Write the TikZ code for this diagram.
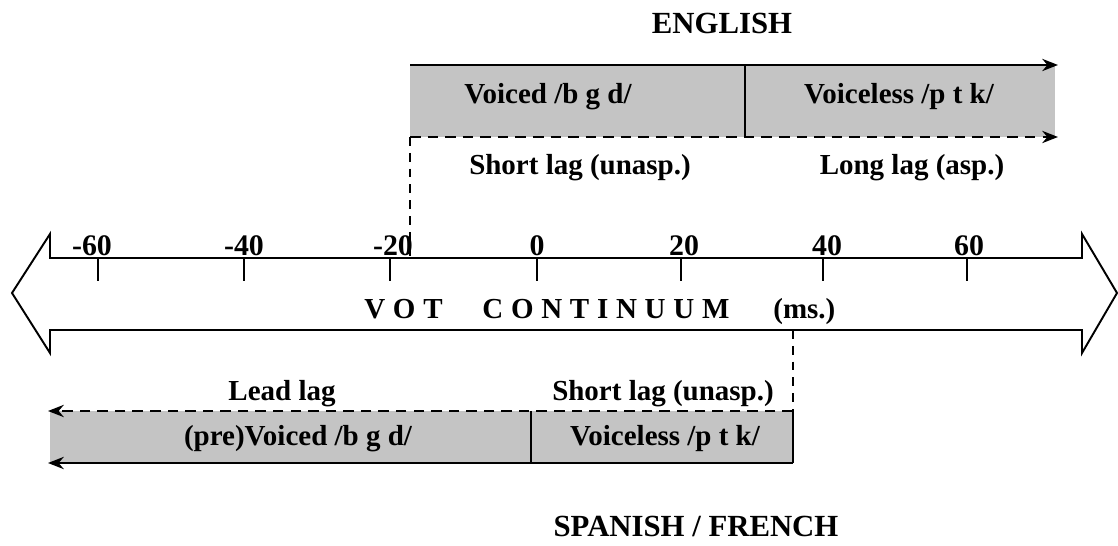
\documentclass[tikz,border=0pt]{standalone}
\usepackage{fontspec}
\setmainfont{Liberation Serif}
\usepackage{tikz}
\usetikzlibrary{arrows.meta, positioning}
\definecolor{votgray}{HTML}{C4C4C4}

\begin{document}
\begin{tikzpicture}[
  x=0.02cm, y=-0.02cm,
  >={Stealth[length=9pt, width=7pt]},
  lab/.style={font=\bfseries\fontsize{16.5}{18}\selectfont, inner sep=0pt, anchor=base},
  head/.style={font=\bfseries\fontsize{17.5}{20}\selectfont, inner sep=0pt, anchor=base},
  spaced/.style={font=\bfseries\fontsize{16.5}{18}\selectfont, inner sep=0pt, anchor=base west},
  num/.style={font=\bfseries\fontsize{17}{19}\selectfont, inner sep=0pt, anchor=base},
  band/.style={fill=votgray},
  solidarr/.style={->, line width=1.1pt},
  dasharr/.style={->, line width=1.1pt, dashed, dash pattern=on 6pt off 4pt},
  guide/.style={line width=1pt, dash pattern=on 5pt off 4pt},
  axis/.style={line width=1.1pt, line join=miter},
  tickmark/.style={line width=1.2pt},
]
\useasboundingbox (0,0) rectangle (1118,546);

% English band
\fill[band] (410,65) rectangle (1055,137);
\coordinate (enTL) at (410,65);
\coordinate (enTR) at (1058,65);
\coordinate (enBL) at (410,137);
\coordinate (enBR) at (1058,137);
\coordinate (enMidT) at (745,65);
\coordinate (enMidB) at (745,137);
\coordinate (enFoot) at (410,258);
\draw[solidarr] (enTL) -- (enTR);
\draw[dasharr] (enBL) -- (enBR);
\draw[line width=1pt] (enMidT) -- (enMidB);
\draw[guide] (enBL) -- (enFoot);

\node[head] (english) at (722,34) {ENGLISH};
\node[lab] (envoiced) at (548,104) {Voiced /b g d/};
\node[lab] (envoiceless) at (899,104) {Voiceless /p t k/};
\node[lab] (enshort) at (580,175) {Short lag (unasp.)};
\node[lab] (enlong) at (912,175) {Long lag (asp.)};

% VOT continuum arrow
\draw[axis] (50,258) -- (1082,258) -- (1082,234) -- (1117,293)
  -- (1082,353) -- (1082,330) -- (50,330) -- (50,353) -- (12,293)
  -- (50,234) -- cycle;

\foreach \val/\xt/\xl in {-60/98/92, -40/244/244, -20/390/393, 0/537/537,
                          20/681/684, 40/823/827, 60/967/969} {
  \draw[tickmark] (\xt,258) -- (\xt,281);
  \node[num] (t\val) at (\xl,256) {\val};
}

\node[spaced] (vot) at (364,319) {V\hspace{4.4pt}O\hspace{4.4pt}T};
\node[spaced] (cont) at (482,319)
  {C\hspace{4.4pt}O\hspace{4.4pt}N\hspace{4.4pt}T\hspace{4.4pt}I\hspace{4.4pt}N\hspace{4.4pt}U\hspace{4.4pt}U\hspace{4.4pt}M};
\node[spaced] (ms) at (773,319) {(ms.)};

% Spanish / French band
\fill[band] (50,411) rectangle (793,463);
\coordinate (spTR) at (793,411);
\coordinate (spTL) at (48,411);
\coordinate (spBR) at (793,463);
\coordinate (spBL) at (48,463);
\coordinate (spMidT) at (531,411);
\coordinate (spMidB) at (531,463);
\coordinate (spHead) at (793,330);
\draw[dasharr] (spTR) -- (spTL);
\draw[solidarr] (spBR) -- (spBL);
\draw[line width=1pt] (spMidT) -- (spMidB);
\draw[line width=1pt] (spTR) -- (spBR);
\draw[guide] (spHead) -- (spTR);

\node[lab] (splead) at (282,401) {Lead lag};
\node[lab] (spshort) at (663,401) {Short lag (unasp.)};
\node[lab] (spvoiced) at (298,446) {(pre)Voiced /b g d/};
\node[lab] (spvoiceless) at (665,446) {Voiceless /p t k/};
\node[head] (spanish) at (696,537) {SPANISH / FRENCH};

\end{tikzpicture}
\end{document}
